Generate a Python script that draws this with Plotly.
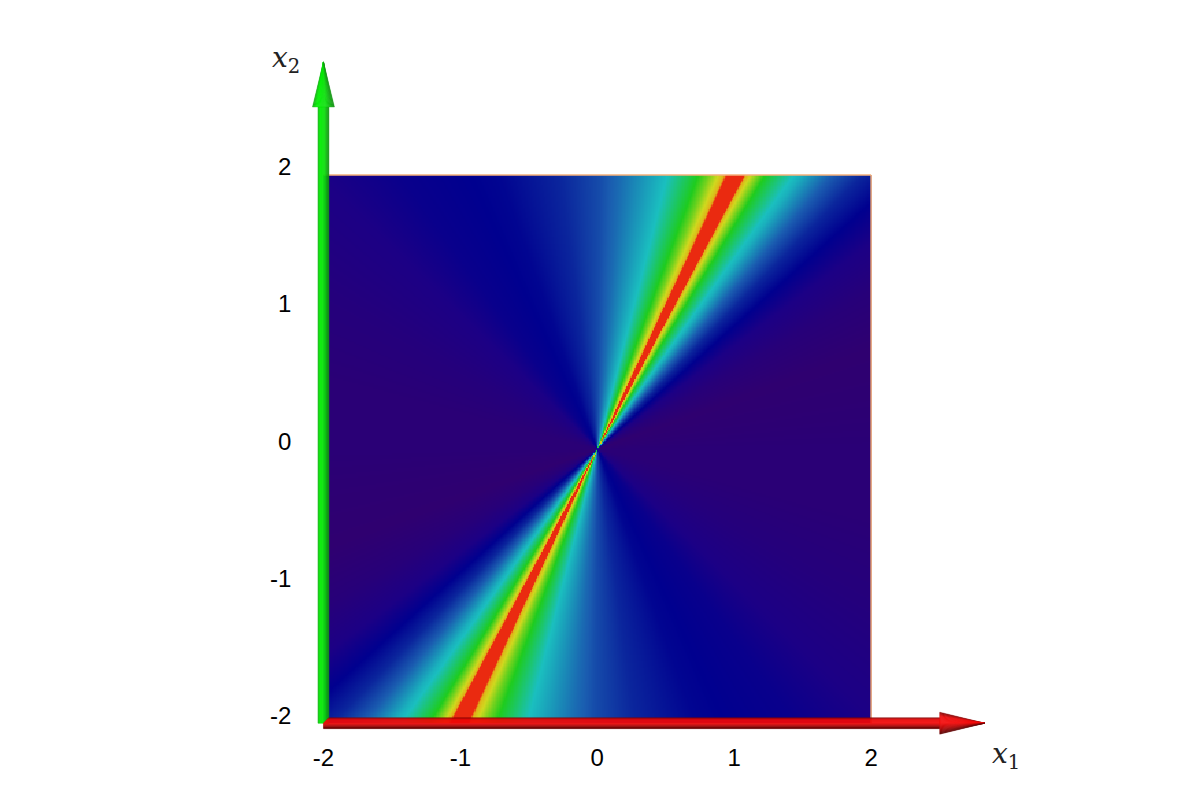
import numpy as np
import plotly.graph_objects as go

# Field is constant along rays through the origin: value per ray angle (degrees)
ray_angle_deg = [0, 8, 20, 30, 37, 42, 46, 49.5, 53.4, 54.4, 58.5, 60.8, 61.8, 63.3, 64.7, 65.5, 66.2, 67.9, 69.8, 75.7, 85.2, 89.4, 97.7, 109.5, 125.8, 135.8, 150, 165, 180]
ray_value = [0.02, 0.01, 0, 0.03, 0.07, 0.13, 0.2, 0.3, 0.47, 0.5, 0.65, 0.8, 0.93, 1, 0.93, 0.85, 0.8, 0.72, 0.65, 0.5, 0.33, 0.27, 0.2, 0.14, 0.11, 0.07, 0.04, 0.02, 0.02]
color_stops = [(0, "#2f0070"), (0.07, "#1c0085"), (0.13, "#00008f"), (0.3, "#1a5cb0"), (0.5, "#1abfbf"),
               (0.65, "#1ecc1e"), (0.8, "#d0d81e"), (0.89, "#e0b018"), (0.93, "#ea2a10"), (1, "#ea2a10")]
tick_values = [-2, -1, 0, 1, 2]
tick_labels = ["-2", "-1", "0", "1", "2"]
x1_tip, x2_tip = 2.83, 2.825
BORDER = "#f5b07a"

W, H = 1177, 770   # page body has an 8px margin
PX = 137.0  # pixels per data unit
CX, CY = 597.0 - 8, 449.0 - 8
XR = (-2.5, 3.0)
YR = (-2.4, 3.0)
L = CX + XR[0] * PX
R = CX + XR[1] * PX
T = CY - YR[1] * PX
B = CY - YR[0] * PX

n = 400
dx = 4.0 / n
xs = -2 + dx * (np.arange(n) + 0.5)
X, Y = np.meshgrid(xs, xs)
theta = np.degrees(np.arctan2(Y, X)) % 180
Z = np.interp(theta, ray_angle_deg, ray_value)

fig = go.Figure(go.Heatmap(x=xs, y=xs, z=Z, zmin=0, zmax=1, colorscale=[list(s) for s in color_stops],
                           showscale=False, hoverinfo="skip"))

u = 1 / PX
shapes = []


def poly(pts, color):
    d = "M " + " L ".join(f"{a:.4f},{b:.4f}" for a, b in pts) + " Z"
    shapes.append(dict(type="path", path=d, xref="x", yref="y", fillcolor=color,
                       line=dict(color=color, width=0.4), layer="above"))


def shade(stops, t):
    ps = [s[0] for s in stops]
    return "rgb(%d,%d,%d)" % tuple(np.interp(t, ps, [s[1][i] for s in stops]) for i in range(3))


# heatmap top and right rim
shapes.append(dict(type="line", x0=-2, x1=2, y0=2, y1=2, xref="x", yref="y", line=dict(color=BORDER, width=1.5), layer="above"))
shapes.append(dict(type="line", x0=2, x1=2, y0=-2, y1=2, xref="x", yref="y", line=dict(color=BORDER, width=1.5), layer="above"))

# green arrow (x2 axis)
green = [(0, (20, 170, 20)), (0.2, (0, 240, 0)), (0.6, (15, 225, 15)), (1, (20, 145, 20))]
nb = 14
hw_s, hw_h = 5.5 * u, 11 * u
base = x2_tip - 45 * u
for i in range(nb):
    a = -hw_s + 2 * hw_s * i / nb
    b = -hw_s + 2 * hw_s * (i + 1) / nb
    poly([(-2 + a, -2), (-2 + b, -2), (-2 + b, base), (-2 + a, base)], shade(green, (i + .5) / nb))
nh = 22
for i in range(nh):
    a = -hw_h + 2 * hw_h * i / nh
    b = -hw_h + 2 * hw_h * (i + 1) / nh
    poly([(-2 + a, base), (-2 + b, base), (-2, x2_tip)], shade(green, (i + .5) / nh))

# red arrow (x1 axis)
red = [(0, (120, 5, 5)), (0.2, (235, 10, 10)), (0.5, (245, 10, 10)), (0.78, (170, 8, 8)), (1, (90, 5, 5))]
base = x1_tip - 45 * u
hw_s = 5.5 * u
for i in range(nb):
    a = hw_s - 2 * hw_s * i / nb
    b = hw_s - 2 * hw_s * (i + 1) / nb
    sa = -2 + max(0.0, a)
    sb = -2 + max(0.0, b)
    poly([(sa, -2 + a), (base, -2 + a), (base, -2 + b), (sb, -2 + b)], shade(red, (i + .5) / nb))
for i in range(nh):
    a = hw_h - 2 * hw_h * i / nh
    b = hw_h - 2 * hw_h * (i + 1) / nh
    poly([(base, -2 + a), (base, -2 + b), (x1_tip, -2)], shade(red, (i + .5) / nh))

label_font = dict(family="Liberation Sans", size=24, color="#000000")
math_font = dict(family="DejaVu Serif", size=28, color="#222222")

fig.update_layout(
    width=W, height=H, autosize=False,
    paper_bgcolor="white", plot_bgcolor="white",
    margin=dict(l=L, r=W - R, t=T, b=H - B, pad=0),
    showlegend=False,
    shapes=shapes,
    xaxis=dict(range=list(XR), domain=[0, 1], anchor="free", position=(B - (CY + 2 * PX)) / (B - T),
               tickmode="array", tickvals=tick_values, ticktext=tick_labels, tickfont=label_font,
               showgrid=False, zeroline=False, showline=False, ticks="", ticklabelstandoff=18),
    yaxis=dict(range=list(YR), domain=[0, 1], anchor="free", position=(CX - 2 * PX - L) / (R - L),
               tickmode="array", tickvals=tick_values, ticktext=tick_labels, tickfont=label_font,
               showgrid=False, zeroline=False, showline=False, ticks="", ticklabelstandoff=32, ticklabelshift=-8),
    annotations=[
        dict(x=3.0, y=-2.0, xref="x", yref="y", xshift=-2, yshift=-32, showarrow=False, font=math_font,
             text="<i>x</i><sub>1</sub>"),
        dict(x=-2.0, y=x2_tip, xref="x", yref="y", xshift=-37, yshift=2, showarrow=False, font=math_font,
             text="<i>x</i><sub>2</sub>"),
    ],
)

fig.write_html("out.html", config={"displayModeBar": False})
